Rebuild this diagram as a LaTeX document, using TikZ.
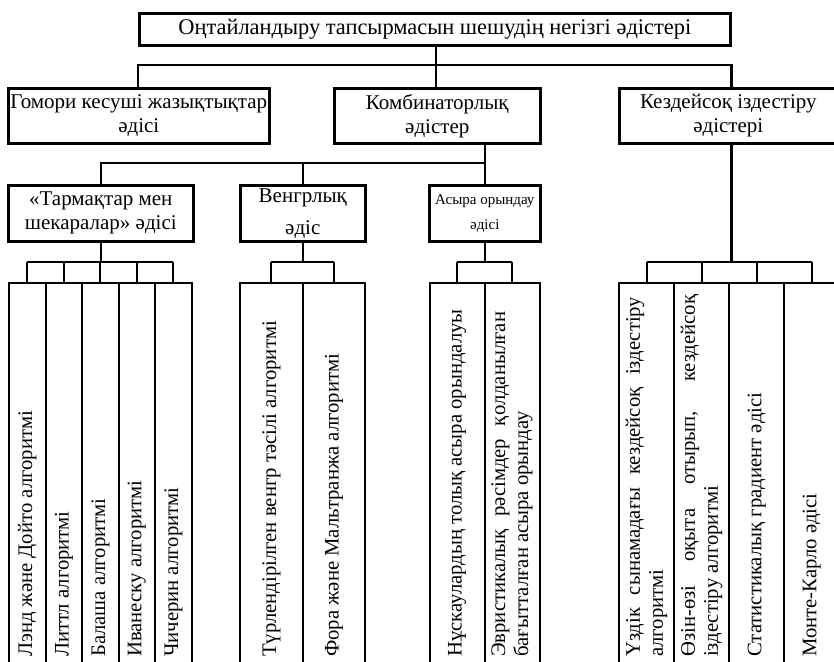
\documentclass[tikz,border=0pt]{standalone}
\usepackage{fontspec}
\setmainfont{Liberation Serif}
\begin{document}
\begin{tikzpicture}[x=1pt, y=-1pt,
  box/.style={draw, line width=2.6pt, inner sep=0pt, anchor=north west, align=center,
    font=\fontsize{21}{24}\selectfont},
  link/.style={line width=2.6pt},
  comb/.style={line width=2pt},
  col/.style={draw, line width=2.2pt, anchor=north west, inner sep=0pt, minimum height=420pt},
  vtxt/.style={rotate=90, anchor=west, inner sep=0pt, font=\fontsize{20.7}{23}\selectfont},
  vpar/.style={vtxt, align=justify},
]
\useasboundingbox (0,0) rectangle (834,661);
\clip (0,0) rectangle (834,661);

% root
\node[box, minimum width=591pt, minimum height=32pt, font=\fontsize{22.4}{26}\selectfont] (root) at (138,12)
  {Оңтайландыру тапсырмасын шешудің негізгі әдістері};

% second level
\node[box, minimum width=261pt, minimum height=55pt] (gom) at (7,87)
  {Гомори кесуші жазықтықтар\\әдісі};
\node[box, minimum width=206pt, minimum height=55pt] (komb) at (333,87)
  {Комбинаторлық\\әдістер};
\node[box, minimum width=218pt, minimum height=55pt] (kez) at (618,87)
  {Кездейсоқ іздестіру\\әдістері};

% third level (combinatorial methods)
\node[box, minimum width=185pt, minimum height=56pt] (tar) at (7,184)
  {«Тармақтар мен\\шекаралар» әдісі};
\node[box, minimum width=125pt, minimum height=56pt, font=\fontsize{21}{32}\selectfont] (ven) at (239,184)
  {Венгрлық\\әдіс};
\node[box, minimum width=111pt, minimum height=56pt, font=\fontsize{15}{25}\selectfont] (asy) at (428,184)
  {Асыра орындау\\әдісі};

% algorithm columns
\foreach \n/\x/\w in {t1/8/36.5, t2/44.5/36.5, t3/81/36.5, t4/117.5/36.5, t5/154/36.5,
                      v1/239/62.5, v2/301.5/62.5,
                      a1/428.5/55, a2/483.5/55,
                      k1/618/55, k2/673/55, k3/728/55, k4/783/55}
  \node[col, minimum width=\w pt] (\n) at (\x,282) {};

% column labels
\node[vtxt] (lt1) at (t1.north |- 0,657) {Лэнд және Дойто алгоритмі};
\node[vtxt] (lt2) at (t2.north |- 0,657) {Литтл алгоритмі};
\node[vtxt] (lt3) at (t3.north |- 0,657) {Балаша алгоритмі};
\node[vtxt] (lt4) at (t4.north |- 0,657) {Иванеску алгоритмі};
\node[vtxt] (lt5) at (t5.north |- 0,657) {Чичерин алгоритмі};
\node[vtxt] (lv1) at (v1.north |- 0,657) {Түрлендірілген венгр тәсілі алгоритмі};
\node[vtxt] (lv2) at (v2.north |- 0,657) {Фора және Мальтранжа алгоритмі};
\node[vtxt] (la1) at (a1.north |- 0,657) {Нұскаулардың толық асыра орындалуы};
\node[vpar, text width=345pt] (la2) at (a2.north |- 0,657)
  {Эвристикалық рәсімдер қолданылған бағытталған асыра орындау};
\node[vpar, text width=360pt] (lk1) at (k1.north |- 0,657)
  {Үздік сынамадағы кездейсоқ іздестіру алгоритмі};
\node[vpar, text width=362pt] (lk2) at (k2.north |- 0,657)
  {Өзін-өзі оқыта отырып, кездейсоқ іздестіру алгоритмі};
\node[vtxt] (lk3) at (k3.north |- 0,657) {Статистикалық градиент әдісі};
\node[vtxt] (lk4) at (k4.north |- 0,657) {Монте-Карло әдісі};

% root to second level
\coordinate (bus1) at (0,65);
\draw[link] (root.south -| 436,0) -- (komb.north -| 436,0);
\draw[link] (root.west |- gom.north) -- (root.west |- bus1) -- (root.east |- bus1) -- (root.east |- kez.north);

% combinatorial methods to third level
\coordinate (bus2) at (0,163);
\draw[link] (komb.south -| asy.north) -- (asy.north);
\draw[link] (tar.north) -- (tar.north |- bus2) -- (asy.north |- bus2);
\draw[link] (ven.north) -- (ven.north |- bus2);

% combs over the columns
\coordinate (bus3) at (0,262);
\draw[link] (tar.south) -- (tar.south |- bus3);
\draw[link] (ven.south) -- (ven.south |- bus3);
\draw[link] (asy.south) -- (asy.south |- bus3);
\draw[link] (kez.south -| root.east) -- (root.east |- bus3);
\draw[comb] (t1.north |- bus3) -- (t5.north |- bus3);
\draw[comb] (v1.north |- bus3) -- (v2.north |- bus3);
\draw[comb] (a1.north |- bus3) -- (a2.north |- bus3);
\draw[comb] (k1.north |- bus3) -- (k4.north |- bus3);
\foreach \c in {t1,t2,t3,t4,t5,v1,v2,a1,a2,k1,k2,k3,k4}
  \draw[comb] (\c.north) -- (\c.north |- bus3);
\end{tikzpicture}
\end{document}
